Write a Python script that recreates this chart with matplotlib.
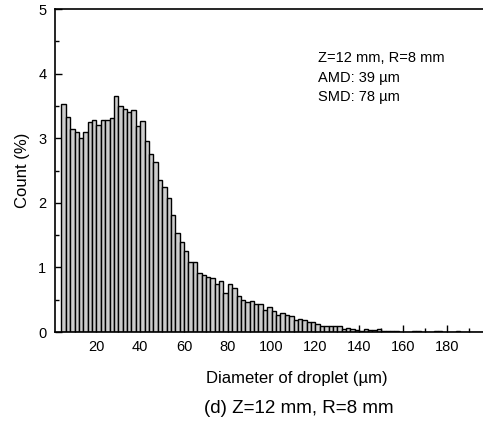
import numpy as np
import matplotlib
matplotlib.use("Agg")
import matplotlib.pyplot as plt
from matplotlib.ticker import MultipleLocator

plt.rcParams['font.family'] = ['Liberation Sans', 'DejaVu Sans']

# bin centres (um), 2 um bins
diam = np.arange(5, 199, 2)
# count (%)
count = [3.53, 3.33, 3.14, 3.10, 3.00, 3.09, 3.25, 3.28, 3.20, 3.28,
         3.28, 3.31, 3.66, 3.50, 3.45, 3.40, 3.43, 3.19, 3.27, 2.95,
         2.75, 2.63, 2.36, 2.25, 2.07, 1.81, 1.54, 1.39, 1.26, 1.09,
         1.08, 0.92, 0.89, 0.85, 0.84, 0.75, 0.79, 0.60, 0.75, 0.68,
         0.56, 0.49, 0.46, 0.48, 0.44, 0.44, 0.34, 0.38, 0.33, 0.27,
         0.30, 0.26, 0.25, 0.18, 0.20, 0.19, 0.16, 0.15, 0.12, 0.10,
         0.10, 0.09, 0.09, 0.09, 0.05, 0.06, 0.05, 0.03, 0.02, 0.04,
         0.03, 0.03, 0.04, 0.02, 0.02, 0.01, 0.01, 0.0, 0.0, 0.0,
         0.01, 0.01, 0.0, 0.0, 0.0, 0.02, 0.02, 0.0, 0.0, 0.0,
         0.01, 0.0, 0.0, 0.0, 0.0, 0.0, 0.0]
count = count[:len(diam)]
xticks = [20, 40, 60, 80, 100, 120, 140, 160, 180]

fig = plt.figure(figsize=(4.83, 4.21), dpi=100)
ax = fig.add_axes([0.1135, 0.2114, 0.9023, 0.7672])

ax.bar(diam[:len(count)], count, width=2.0, color='#cdcdcd',
       edgecolor='black', linewidth=1.0, zorder=2)

ax.set_xlim(1, 200)
ax.set_ylim(0, 5)
ax.set_xticks(xticks)
ax.xaxis.set_minor_locator(MultipleLocator(10))
ax.yaxis.set_major_locator(MultipleLocator(1))
ax.yaxis.set_minor_locator(MultipleLocator(0.5))
ax.tick_params(which='both', direction='in', labelsize=10.5, width=1.0)
ax.tick_params(which='major', length=5, pad=6)
ax.tick_params(which='minor', length=3)
for s in ax.spines.values():
    s.set_linewidth(1.2)

ax.set_xlabel('Diameter of droplet (\u00b5m)', fontsize=12)
ax.xaxis.set_label_coords(0.556, -0.122)
ax.set_ylabel('Count (%)', fontsize=12, labelpad=6)

ax.text(0.605, 0.869, 'Z=12 mm, R=8 mm\nAMD: 39 \u00b5m\nSMD: 78 \u00b5m',
        transform=ax.transAxes, fontsize=10.5, va='top', ha='left',
        linespacing=1.5)

fig.text(0.619, 0.01, '(d) Z=12 mm, R=8 mm', ha='center', va='bottom',
         fontsize=13.5)

fig.savefig('out.png', dpi=100)
